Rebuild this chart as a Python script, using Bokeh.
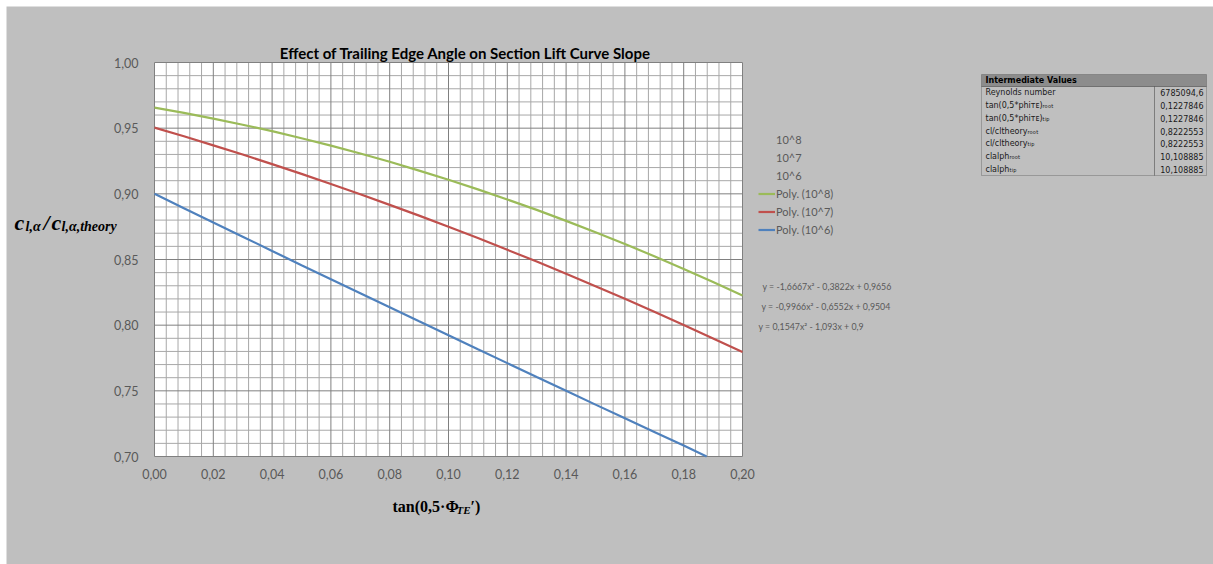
from bokeh.plotting import figure
from bokeh.models import (Label, Legend, LegendItem, FixedTicker, LinearAxis,
                          CustomJSTickFormatter, BoxAnnotation, Range1d)
from bokeh.embed import file_html
from bokeh.resources import INLINE

# ---------------- data ----------------
x_vals = [0.00, 0.01, 0.02, 0.03, 0.04, 0.05, 0.06, 0.07, 0.08, 0.09, 0.10,
          0.11, 0.12, 0.13, 0.14, 0.15, 0.16, 0.17, 0.18, 0.19, 0.20]
re_1e8 = [0.9656, 0.9616, 0.9573, 0.9526, 0.9477, 0.9423, 0.9367, 0.9307,
          0.9244, 0.9177, 0.9107, 0.9034, 0.8957, 0.8878, 0.8794, 0.8708,
          0.8618, 0.8525, 0.8428, 0.8328, 0.8225]
re_1e7 = [0.9504, 0.9438, 0.9369, 0.9299, 0.9226, 0.9152, 0.9075, 0.8997,
          0.8916, 0.8834, 0.8749, 0.8663, 0.8574, 0.8484, 0.8391, 0.8297,
          0.8201, 0.8102, 0.8002, 0.7899, 0.7795]
# 10^6 curve leaves the plot area at the bottom edge (x ~ 0.188, y = 0.70)
x_vals_1e6 = [0.00, 0.01, 0.02, 0.03, 0.04, 0.05, 0.06, 0.07, 0.08, 0.09, 0.10,
              0.11, 0.12, 0.13, 0.14, 0.15, 0.16, 0.17, 0.18, 0.1878]
re_1e6 = [0.9000, 0.8891, 0.8782, 0.8674, 0.8565, 0.8457, 0.8350, 0.8243,
          0.8136, 0.8029, 0.7923, 0.7816, 0.7711, 0.7605, 0.7500, 0.7395,
          0.7291, 0.7187, 0.7083, 0.7000]

series_names = ["10^8", "10^7", "10^6"]
trend_names = ["Poly. (10^8)", "Poly. (10^7)", "Poly. (10^6)"]
equations = ["y = -1,6667x\u00b2 - 0,3822x + 0,9656",
             "y = -0,9966x\u00b2 - 0,6552x + 0,9504",
             "y = 0,1547x\u00b2 - 1,093x + 0,9"]
series_colors = ["#9bbb59", "#c0504d", "#4f81bd"]

x_ticks = [0.00, 0.02, 0.04, 0.06, 0.08, 0.10, 0.12, 0.14, 0.16, 0.18, 0.20]
y_ticks = [0.70, 0.75, 0.80, 0.85, 0.90, 0.95, 1.00]

title_text = "Effect of Trailing Edge Angle on Section Lift Curve Slope"

table_title = "Intermediate Values"
table_names = ["Reynolds number",
               "tan(0,5*phi\u1d1b\u1d07)\u1d63\u2092\u2092\u209c",
               "tan(0,5*phi\u1d1b\u1d07)\u209c\u1d62\u209a",
               "cl/cltheory\u1d63\u2092\u2092\u209c",
               "cl/cltheory\u209c\u1d62\u209a",
               "clalph\u1d63\u2092\u2092\u209c",
               "clalph\u209c\u1d62\u209a"]
table_values = ["6785094,6", "0,1227846", "0,1227846", "0,8222553",
                "0,8222553", "10,108885", "10,108885"]

# ---------------- layout helpers (page pixel -> data) ----------------
FL, FR, FT, FB = 154, 742, 62, 456          # plot area in page pixels
X0, X1, Y0, Y1 = 0.0, 0.20, 0.70, 1.00
OX, OY = 6, 6                               # figure offset on page
W, H = 1213 - OX, 564 - OY


def dx(px):
    return X0 + (px - FL) / (FR - FL) * (X1 - X0)


def dy(py):
    return Y1 - (py - FT) / (FB - FT) * (Y1 - Y0)


BG = "#bfbfbf"
GREY_TXT = "#595959"

p = figure(width=W, height=H, margin=(OY, 0, 0, OX),
           min_border_left=0, min_border_right=0,
           min_border_top=0, min_border_bottom=0,
           x_range=Range1d(dx(OX), dx(1213)), y_range=Range1d(dy(564), dy(OY)),
           x_axis_location=None, y_axis_location=None,
           output_backend="svg", toolbar_location=None,
           border_fill_color=BG, background_fill_color=BG,
           outline_line_color=None)
# no default full-width grids
p.grid.visible = False

# white plot area
p.quad(left=[X0], right=[X1], bottom=[Y0], top=[Y1],
       fill_color="white", line_color=None, level="underlay")

# ticks / grid (grid lines limited to the plot area)
x_minor = [round(i * 0.004, 3) for i in range(51) if i % 5 != 0]
y_minor = [round(0.70 + i * 0.01, 2) for i in range(31) if i % 5 != 0]
xt = FixedTicker(ticks=x_ticks, minor_ticks=x_minor)
yt = FixedTicker(ticks=y_ticks, minor_ticks=y_minor)
fmt = CustomJSTickFormatter(code="return tick.toFixed(2).replace('.', ',');")

MAJOR_C, MINOR_C = "#808080", "#a8a8a8"
p.segment(x0=x_minor, x1=x_minor, y0=Y0, y1=Y1, line_color=MINOR_C, level="underlay")
p.segment(x0=X0, x1=X1, y0=y_minor, y1=y_minor, line_color=MINOR_C, level="underlay")
p.segment(x0=x_ticks, x1=x_ticks, y0=Y0, y1=Y1, line_color=MAJOR_C, level="underlay")
p.segment(x0=X0, x1=X1, y0=y_ticks, y1=y_ticks, line_color=MAJOR_C, level="underlay")

xaxis = LinearAxis(ticker=xt, formatter=fmt, fixed_location=Y0)
yaxis = LinearAxis(ticker=yt, formatter=fmt, fixed_location=X0)
for ax in (xaxis, yaxis):
    ax.axis_line_color = None
    ax.major_tick_line_color = None
    ax.minor_tick_line_color = None
    ax.major_tick_in = 0
    ax.major_tick_out = 0
    ax.major_label_text_font = "Lato"
    ax.major_label_text_font_size = "12.5px"
    ax.major_label_text_color = GREY_TXT
xaxis.major_label_standoff = 8
yaxis.major_label_standoff = 12
p.add_layout(xaxis, "below")
p.add_layout(yaxis, "left")

# series (invisible data series + visible polynomial trendlines)
xs_list = [x_vals, x_vals, x_vals_1e6]
invis, trends = [], []
for xs, ys, col in zip(xs_list, [re_1e8, re_1e7, re_1e6], series_colors):
    invis.append(p.line(xs, ys, line_alpha=0))
    trends.append(p.line(xs, ys, line_color=col, line_width=2.2))

items = [LegendItem(label=n, renderers=[r]) for n, r in zip(series_names, invis)]
items += [LegendItem(label=n, renderers=[r]) for n, r in zip(trend_names, trends)]
legend = Legend(items=items, location=(758 - OX, 564 - 236),
                orientation="vertical", glyph_width=17, glyph_height=13,
                label_height=13, spacing=5, padding=0, margin=0,
                label_standoff=1, background_fill_alpha=0,
                border_line_color=None, label_text_font="Lato",
                label_text_font_size="11px", label_text_color=GREY_TXT)
p.add_layout(legend)

# title
p.add_layout(Label(x=dx(465), y=dy(52), text=title_text, text_align="center",
                   text_baseline="middle", text_font="Lato",
                   text_font_style="bold", text_font_size="15px",
                   text_color="black"))

# trendline equations
for txt, px, py in zip(equations, [762, 761, 758], [286, 306, 326]):
    p.add_layout(Label(x=dx(px), y=dy(py), text=txt, text_align="left",
                       text_baseline="middle", text_font="Lato",
                       text_font_size="8.8px", text_color=GREY_TXT))

# y axis title (composed, bold italic serif)
SERIF = "Liberation Serif"
ylab = [("c", 14, 222, "22px"), ("l,\u03b1", 25, 226, "14px"),
        ("/", 43, 222, "22px"), ("c", 51, 222, "22px"),
        ("l,\u03b1,theory", 61, 226, "14px")]
for txt, px, py, fs in ylab:
    p.add_layout(Label(x=dx(px), y=dy(py), text=txt, text_align="left",
                       text_baseline="alphabetic", text_font=SERIF,
                       text_font_style="bold italic", text_font_size=fs,
                       text_color="black"))

# x axis title
xlab = [("tan(0,5\u00b7\u03a6", 392, 506, "16px", "bold"),
        ("TE", 456, 509, "11px", "bold italic"),
        ("\u2032)", 470, 506, "16px", "bold")]
for txt, px, py, fs, st in xlab:
    p.add_layout(Label(x=dx(px), y=dy(py), text=txt, text_align="left",
                       text_baseline="alphabetic", text_font=SERIF,
                       text_font_style=st, text_font_size=fs,
                       text_color="black"))

# intermediate values table
TL, TR, TT, TH, TB, TD = 981, 1206, 74, 86, 175, 1154
p.add_layout(BoxAnnotation(left=dx(TL), right=dx(TR), top=dy(TT), bottom=dy(TH),
                           fill_color="#8c8c8c", fill_alpha=1,
                           line_color="#404040", line_width=1))
p.add_layout(BoxAnnotation(left=dx(TL), right=dx(TR), top=dy(TH), bottom=dy(TB),
                           fill_alpha=0, line_color="#404040", line_width=1))
p.add_layout(BoxAnnotation(left=dx(TD), right=dx(TD), top=dy(TH), bottom=dy(TB),
                           fill_alpha=0, line_color="#404040", line_width=1))
p.add_layout(Label(x=dx(985), y=dy(80), text=table_title, text_align="left",
                   text_baseline="middle", text_font="DejaVu Sans",
                   text_font_style="bold", text_font_size="8px",
                   text_color="black"))
row_h = (TB - TH) / len(table_names)
for i, (nm, vl) in enumerate(zip(table_names, table_values)):
    yc = TH + row_h * (i + 0.5)
    p.add_layout(Label(x=dx(985), y=dy(yc), text=nm, text_align="left",
                       text_baseline="middle", text_font="DejaVu Sans",
                       text_font_size="8px", text_color="#1a1a1a"))
    p.add_layout(Label(x=dx(1203), y=dy(yc), text=vl, text_align="right",
                       text_baseline="middle", text_font="DejaVu Sans",
                       text_font_size="8px", text_color="#1a1a1a"))

open("out.html", "w").write(file_html(p, INLINE))
